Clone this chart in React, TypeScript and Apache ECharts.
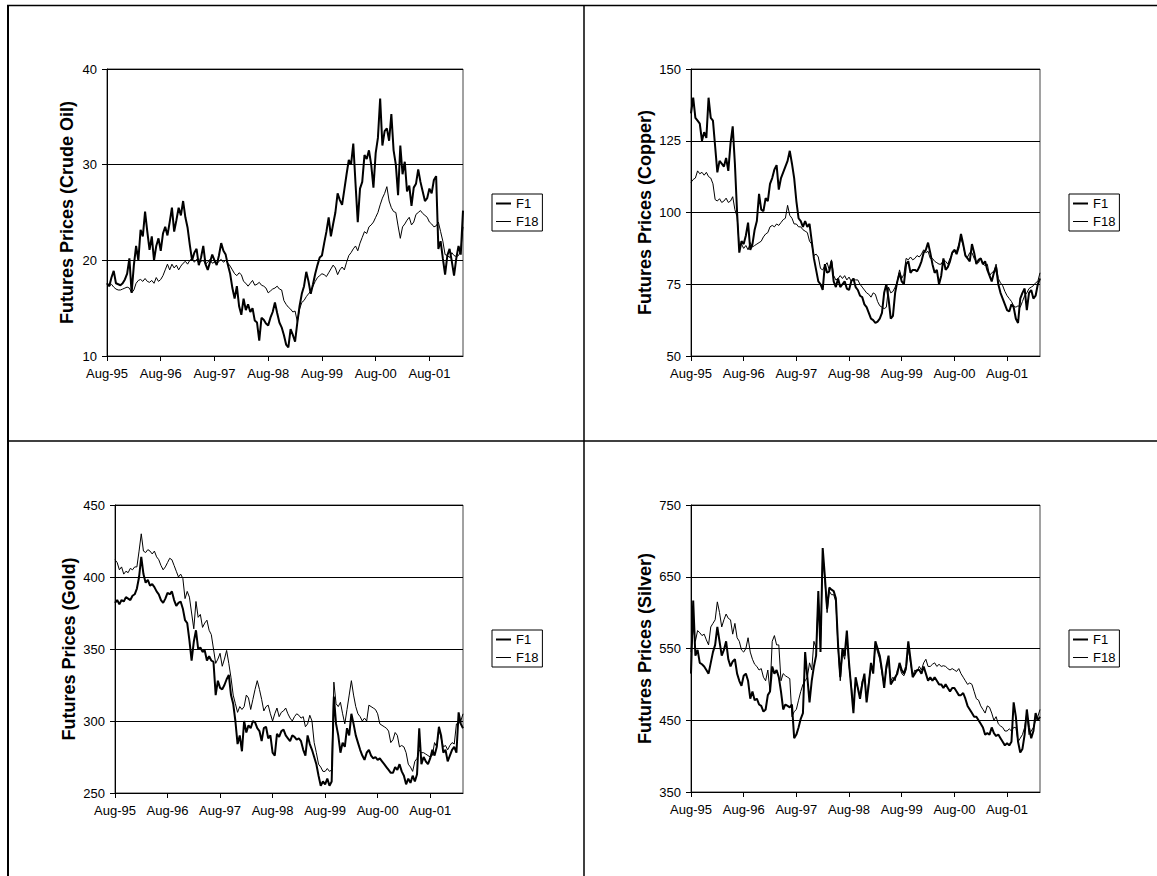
import React, { useEffect, useRef } from "react";
import * as echarts from "echarts";

// Semi-monthly observations, Aug-1995 .. Mar-2002 (160 points)
const MONTHS = ["Jan", "Feb", "Mar", "Apr", "May", "Jun", "Jul", "Aug", "Sep", "Oct", "Nov", "Dec"];
const categories: string[] = [];
for (let i = 0; i < 160; i++) {
  const m = 7 + Math.floor(i / 2);
  const y = 1995 + Math.floor(m / 12);
  const mm = (m % 12) + 1;
  categories.push(`${y}-${String(mm).padStart(2, "0")}-${i % 2 === 0 ? "01" : "16"}`);
}

const crudeF1 = [
  17.6, 17.3, 18.2, 18.9, 17.6, 17.5, 17.4, 17.6, 18.0, 18.6,
  20.2, 16.6, 19.5, 21.5, 20.0, 23.2, 22.5, 25.1, 23.0, 21.1,
  22.5, 20.0, 21.5, 22.3, 21.0, 22.8, 23.5, 22.6, 24.0, 25.5,
  23.0, 24.2, 25.5, 24.7, 26.2, 24.5, 23.4, 21.6, 20.0, 20.8,
  21.2, 19.5, 20.3, 21.5, 19.6, 19.0, 19.8, 20.6, 20.0, 19.5,
  20.5, 21.8, 21.0, 20.6, 19.5, 18.6, 17.1, 16.0, 17.3, 15.2,
  14.3, 16.0, 14.8, 15.4, 14.6, 15.0, 13.7, 13.5, 11.6, 14.0,
  13.8, 13.4, 13.2, 14.0, 14.6, 15.6, 14.5, 13.5, 13.0, 12.2,
  11.2, 10.9, 12.8, 12.2, 11.5, 13.5, 15.2, 16.5, 17.3, 18.8,
  17.8, 16.5, 17.5, 18.6, 19.5, 20.3, 20.5, 21.8, 23.0, 24.5,
  22.5, 23.8, 25.0, 27.0, 26.3, 25.8, 27.4, 29.0, 30.5, 30.0,
  32.2, 28.0, 24.0, 27.5, 28.2, 31.0, 30.6, 31.5, 30.0, 27.6,
  31.2, 32.8, 36.9, 32.0, 33.5, 33.8, 32.5, 35.3, 31.5, 30.0,
  26.8, 32.0, 29.0, 30.3, 27.2, 27.8, 25.7, 27.6, 28.0, 29.5,
  28.2, 27.2, 26.2, 26.5, 27.5, 27.0, 28.4, 28.8, 21.2, 22.0,
  20.2, 18.5, 20.5, 21.2, 19.9, 18.4, 20.2, 21.5, 20.6, 25.2,
];
const crudeF18 = [
  17.6, 17.3, 17.5, 17.2, 17.0, 16.9, 16.9, 17.0, 17.1, 17.2,
  17.1, 16.6, 16.9, 17.6, 17.9, 18.0, 17.8, 18.1, 17.8, 17.7,
  17.9, 17.6, 18.2, 17.8, 18.0, 18.4, 19.0, 19.6, 19.0, 19.6,
  19.2, 19.5, 19.0, 19.4, 19.7, 19.9, 19.6, 20.0, 20.2, 19.8,
  20.1, 19.7, 19.9, 20.0, 19.6, 19.8, 20.1, 19.7, 19.8, 19.6,
  19.9, 20.1, 19.8, 20.0, 19.7, 19.4, 19.0, 18.6, 18.4, 18.7,
  18.5, 17.8, 17.6, 17.3, 17.6, 17.9, 17.4, 17.5, 17.7, 17.4,
  17.3, 17.1, 16.6, 16.8, 17.0, 17.1, 17.3, 17.0, 16.9, 15.8,
  15.4, 15.1, 14.9, 14.6, 14.7, 13.6, 14.9, 15.6, 15.8, 16.2,
  16.5, 16.8, 17.3, 17.8, 18.2, 18.4, 18.6, 18.5, 18.3, 18.7,
  19.1, 19.5, 19.2, 18.5, 19.0, 19.3, 19.0, 19.8, 20.5, 20.8,
  21.2, 21.5, 21.0, 21.8, 22.4, 23.0, 22.8, 23.5, 23.7, 24.0,
  24.5, 25.0, 25.8, 26.5, 27.0, 27.7, 26.2, 25.5, 25.1, 25.0,
  23.6, 22.3, 23.5, 23.8, 24.2, 24.5, 23.7, 24.0, 24.8, 25.0,
  25.2, 24.9, 24.7, 24.5, 24.0, 23.8, 23.5, 23.6, 24.0, 23.0,
  22.0, 20.6, 20.5, 20.3, 20.8, 20.5, 20.4, 20.5, 21.0, 23.5,
];

const copperF1 = [
  134.5, 140.0, 133.0, 132.0, 131.0, 125.0, 128.0, 126.0, 140.0, 133.0,
  132.0, 123.0, 114.0, 118.0, 117.0, 116.0, 119.0, 114.5, 124.0, 130.0,
  117.0, 100.0, 86.0, 90.0, 89.0, 92.0, 96.5, 87.0, 89.0, 94.0,
  97.0, 106.5, 101.0, 100.5, 105.0, 104.0, 110.0, 112.0, 115.0, 116.5,
  108.0, 112.0, 114.0, 116.0, 118.0, 121.5, 117.0, 112.0, 104.0, 98.0,
  97.0, 95.0, 97.0, 95.0, 96.0, 90.0, 84.0, 80.0, 76.0, 75.0,
  73.0, 82.0, 79.0, 79.5, 83.0, 76.0, 74.0, 77.0, 74.0, 75.0,
  76.0, 73.5, 73.0, 76.0, 77.0, 74.0, 73.0, 71.0, 70.5, 68.0,
  67.0, 65.0, 63.0, 62.5, 61.5, 62.0, 63.0, 65.0, 72.0, 75.0,
  70.0, 63.0, 64.0, 72.0, 76.0, 79.0, 76.0, 75.0, 82.0, 83.0,
  79.0, 80.0, 80.0, 79.5, 81.0, 83.0, 86.0, 87.0, 89.5, 86.0,
  82.0, 79.0, 80.0, 75.0, 78.0, 84.0, 80.0, 81.0, 83.0, 86.0,
  87.0, 85.5, 88.0, 92.5, 89.0, 85.0, 84.0, 83.0, 89.0, 86.0,
  82.0, 83.5, 84.0, 82.0, 83.0, 80.0, 78.0, 76.0, 79.0, 81.0,
  75.0, 72.0, 70.0, 68.0, 66.0, 65.5, 68.0, 67.0, 63.0, 61.5,
  70.0, 72.0, 73.5, 66.0, 72.0, 73.0, 70.0, 71.0, 75.0, 77.0,
];
const copperF18 = [
  110.5, 111.5, 112.0, 114.5, 113.5, 114.0, 113.0, 114.0, 112.5, 112.0,
  110.0, 104.5, 104.0, 104.8, 103.5, 104.0, 105.0, 103.5, 104.0, 105.5,
  101.0, 98.5, 88.0, 89.0, 87.5, 88.5, 87.0, 89.5, 88.0, 88.5,
  89.0, 89.5, 90.0, 91.5, 92.5, 93.0, 95.0, 95.5, 95.0, 96.0,
  95.5, 96.5, 97.5, 98.0, 102.5, 99.0, 98.0, 96.0, 96.0, 95.0,
  95.0, 94.0, 93.5, 93.0, 90.0, 89.0, 85.0, 85.5, 84.5, 80.5,
  80.0, 81.5, 82.5, 80.0, 83.5, 78.0, 76.5, 77.0, 78.0, 77.0,
  78.0, 76.5, 77.5, 76.0, 77.0, 76.5, 76.5, 75.0, 74.0, 73.0,
  72.0, 71.5, 70.5, 72.0, 71.5, 69.0, 67.5, 67.0, 66.5, 67.0,
  74.0, 72.0, 72.5, 74.0, 76.0, 80.0, 77.0, 78.5, 84.0, 83.5,
  84.5, 83.5, 84.0, 85.0, 84.5, 85.5, 87.0, 86.0, 86.5, 84.0,
  84.0, 83.0, 82.5, 82.0, 82.0, 83.5, 83.0, 82.0, 84.0, 85.5,
  87.0, 86.5, 89.0, 91.0, 88.5, 85.0, 84.5, 86.0, 86.0, 84.0,
  83.0, 82.5, 84.0, 82.0, 81.5, 82.0, 78.0, 79.0, 79.5, 82.0,
  77.0, 75.5, 74.5, 72.5, 71.0, 70.0, 69.0, 67.5, 67.0, 67.5,
  67.0, 69.0, 71.0, 72.0, 73.5, 74.0, 74.5, 75.5, 76.0, 79.0,
];

const goldF1 = [
  382, 384, 381, 384, 383, 386, 385, 384, 387, 388,
  392, 400, 414, 402, 396, 398, 394, 395, 393, 390,
  388, 384, 382, 385, 389, 388, 390, 384, 380, 382,
  383, 378, 370, 368, 356, 342, 355, 363, 350, 351,
  348, 349, 342, 345, 342, 341, 318, 328, 323, 322,
  325, 329, 332, 318, 312, 300, 284, 290, 279, 300,
  292, 297, 295, 300, 299, 295, 293, 286, 295, 296,
  288, 290, 278, 276, 291, 289, 293, 294, 290, 288,
  286, 290, 289, 287, 288, 286, 280, 276, 290, 284,
  280, 275, 270, 262, 255, 258, 256, 260, 255, 258,
  317, 298, 290, 278, 285, 282, 295, 290, 305, 298,
  290, 285, 280, 276, 273, 278, 280, 276, 274, 275,
  273, 274, 272, 270, 268, 266, 264, 264, 268, 266,
  270, 265, 262, 256, 260, 257, 262, 258, 263, 295,
  270, 275, 272, 270, 274, 280, 276, 282, 296, 290,
  278, 280, 272, 276, 280, 282, 278, 306, 298, 295,
];
const goldF18 = [
  412, 410, 405, 407, 402, 404, 403, 406, 405, 407,
  407, 418, 430, 418, 417, 419, 418, 416, 418, 414,
  412, 408, 405, 407, 410, 413, 412, 408, 404, 400,
  402, 399, 385, 390, 386, 375, 364, 383, 372, 374,
  365, 368, 370, 363, 360, 350, 340, 343, 347, 338,
  343, 349, 340, 330, 318, 312, 306, 310, 308, 310,
  318, 316, 308, 315, 322, 328, 322, 315, 307, 310,
  311, 305, 300, 305, 309, 303, 306, 307, 309, 305,
  302, 300, 303, 305, 304, 302, 303, 296, 298, 304,
  300, 285, 278, 270, 268, 265, 265, 267, 265, 266,
  327, 312, 310, 313, 305, 298, 308, 318, 328, 318,
  310, 305, 303, 300, 302, 300, 311, 310, 309, 308,
  305, 298, 297, 296, 295, 293, 285, 287, 292, 290,
  282, 283, 282, 278, 270, 268, 265, 272, 274, 280,
  278, 278, 277, 276, 275, 276, 285, 282, 295, 288,
  282, 283, 280, 283, 285, 284, 298, 298, 300, 305,
];

const silverF1 = [
  515, 617, 540, 548, 530, 528, 525, 520, 515, 530,
  545, 555, 580, 560, 540, 548, 560, 535, 525, 532,
  535, 515, 505, 498, 512, 515, 505, 480, 490, 478,
  480, 472, 470, 462, 465, 485, 490, 525, 515, 520,
  510, 490, 465, 472, 470, 468, 472, 425, 430, 440,
  452, 460, 545, 510, 475, 505, 525, 540, 630, 545,
  690, 650, 605, 635, 632, 630, 620, 555, 510, 550,
  540, 575, 530, 495, 460, 510, 495, 480, 500, 515,
  475, 500, 530, 515, 560, 550, 540, 520, 495, 525,
  540, 500, 505, 510, 515, 530, 520, 515, 525, 560,
  535, 510, 515, 520, 520, 515, 525, 515, 505, 510,
  505, 510, 505, 500, 500, 495, 500, 495, 490, 495,
  495, 490, 485, 485, 488, 480, 470, 465, 460, 455,
  455, 450, 445, 440, 430, 432, 430, 440, 432, 428,
  430, 425, 420, 415, 418, 415, 420, 475, 455, 420,
  405, 410, 430, 465, 440, 425, 435, 460, 450, 455,
];
const silverF18 = [
  545, 580, 560, 575, 572, 568, 570, 562, 555, 580,
  585, 590, 615, 600, 580, 590, 598, 592, 590, 570,
  585, 565, 560, 548, 545, 550, 565, 545, 535, 528,
  525, 520, 522, 510, 505, 520, 490, 560, 568, 555,
  555, 505, 515, 512, 510, 508, 455, 462, 465, 478,
  490, 500, 505, 510, 530, 520, 560, 550, 620, 560,
  685, 645, 600, 630, 625, 625, 615, 550, 505, 545,
  535, 565, 525, 500, 470, 505, 495, 485, 505, 510,
  480, 505, 525, 520, 555, 545, 535, 515, 500, 520,
  535, 505, 510, 505, 520, 525, 515, 512, 520, 550,
  530, 512, 520, 518, 525, 520, 530, 535, 525, 525,
  528, 530, 525, 528, 525, 526, 525, 522, 520, 522,
  520, 518, 522, 515, 510, 505, 500, 502, 500, 490,
  480, 478, 470, 465, 460, 470, 468, 460, 450, 455,
  445, 442, 440, 435, 435, 438, 435, 440, 440, 420,
  425, 430, 440, 460, 430, 435, 440, 450, 455, 465,
];

const panelTitles = [
  "Futures Prices (Crude Oil)",
  "Futures Prices (Copper)",
  "Futures Prices (Gold)",
  "Futures Prices (Silver)",
];
const yMins = [10, 50, 250, 350];
const yMaxs = [40, 150, 450, 750];
const yIntervals = [10, 25, 50, 100];
const f1Series = [crudeF1, copperF1, goldF1, silverF1];
const f18Series = [crudeF18, copperF18, goldF18, silverF18];

const FONT = "'Liberation Sans', Arial, Helvetica, sans-serif";

const grids = [
  { left: 107, top: 69, width: 356, height: 287 },
  { left: 691, top: 69, width: 349, height: 287 },
  { left: 115, top: 505, width: 348, height: 288 },
  { left: 691, top: 505, width: 349, height: 287 },
];
const nameGaps = [31, 37, 37, 37];
const legendPos = [
  { left: 492, top: 194 },
  { left: 1069, top: 194 },
  { left: 492, top: 630 },
  { left: 1069, top: 630 },
];

function fmtLabel(v: string) {
  const y = v.slice(2, 4);
  const m = parseInt(v.slice(5, 7), 10) - 1;
  return `${MONTHS[m]}-${y}`;
}
const yearTick = (i: number) => i % 24 === 0;

export default function App() {
  const ref = useRef<HTMLDivElement>(null);
  useEffect(() => {
    if (!ref.current) return;
    const chart = echarts.init(ref.current, null, { renderer: "svg" });
    const series: any[] = [];
    for (let k = 0; k < 4; k++) {
      series.push({
        name: "F1",
        type: "line",
        xAxisIndex: k,
        yAxisIndex: k,
        data: f1Series[k],
        symbol: "none",
        silent: true,
        lineStyle: { color: "#000", width: 2 },
        itemStyle: { color: "#000" },
      });
      series.push({
        name: "F18",
        type: "line",
        xAxisIndex: k,
        yAxisIndex: k,
        data: f18Series[k],
        symbol: "none",
        silent: true,
        lineStyle: { color: "#000", width: 1 },
        itemStyle: { color: "#000" },
      });
    }
    const line = (x1: number, y1: number, x2: number, y2: number, w: number) => ({
      type: "line",
      shape: { x1, y1, x2, y2 },
      style: { stroke: "#000", lineWidth: w },
      silent: true,
    });
    chart.setOption({
      animation: false,
      backgroundColor: "#fff",
      textStyle: { fontFamily: FONT },
      grid: grids.map((g) => ({
        ...g,
        show: true,
        borderColor: "#444",
        borderWidth: 1,
        backgroundColor: "transparent",
      })),
      xAxis: grids.map((_, k) => ({
        type: "category",
        gridIndex: k,
        data: categories,
        boundaryGap: false,
        axisLine: { show: true, lineStyle: { color: "#000", width: 1 } },
        axisTick: { show: true, interval: yearTick, length: 5, lineStyle: { color: "#000" } },
        axisLabel: {
          interval: yearTick,
          formatter: fmtLabel,
          fontSize: 13,
          color: "#000",
          fontFamily: FONT,
          margin: 11,
        },
        splitLine: { show: false },
      })),
      yAxis: grids.map((_, k) => ({
        type: "value",
        gridIndex: k,
        min: yMins[k],
        max: yMaxs[k],
        interval: yIntervals[k],
        name: panelTitles[k],
        nameLocation: "middle",
        nameGap: nameGaps[k],
        nameTextStyle: { fontSize: 18, fontWeight: "bold", color: "#000", fontFamily: FONT },
        axisLine: { show: true, lineStyle: { color: "#000", width: 1 } },
        axisTick: { show: true, length: 5, lineStyle: { color: "#000" } },
        axisLabel: { fontSize: 13, color: "#000", fontFamily: FONT, margin: 10 },
        splitLine: { show: true, lineStyle: { color: "#000", width: 1 } },
      })),
      legend: legendPos.map((p) => ({
        ...p,
        orient: "vertical",
        data: [
          { name: "F1", lineStyle: { width: 2, color: "#000" } },
          { name: "F18", lineStyle: { width: 1, color: "#000" } },
        ],
        selectedMode: false,
        itemWidth: 15,
        itemHeight: 13,
        itemGap: 5,
        padding: [3, 4, 3, 3],
        borderColor: "#000",
        borderWidth: 1,
        itemStyle: { opacity: 0 },
        textStyle: { fontSize: 13, color: "#000", fontFamily: FONT },
      })),
      graphic: [
        line(7, 5.5, 1157, 5.5, 1.5),
        line(8, 5, 8, 876, 2),
        line(584, 5, 584, 876, 1.5),
        line(7, 441, 1157, 441, 1.5),
      ],
      series,
    });
    return () => chart.dispose();
  }, []);
  return (
    <div
      ref={ref}
      style={{ position: "absolute", left: 0, top: 0, width: 1157, height: 876 }}
    />
  );
}
